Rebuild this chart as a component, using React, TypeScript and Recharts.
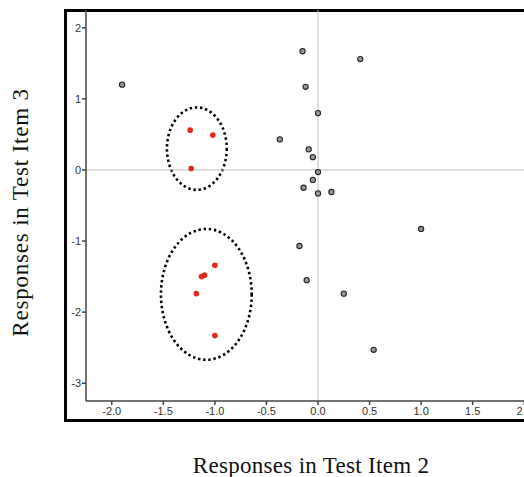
import React from 'react';
import {
  ScatterChart,
  Scatter,
  XAxis,
  YAxis,
  ReferenceLine,
  ReferenceArea,
} from 'recharts';

// responses of the other students (grey)
const otherItem2 = [-1.9, -0.15, 0.41, -0.12, 0.0, -0.37, -0.09, -0.05, 0.0, -0.05, -0.14, 0.0, 0.13, 1.0, -0.18, -0.11, 0.25, 0.54];
const otherItem3 = [1.2, 1.67, 1.56, 1.17, 0.8, 0.43, 0.29, 0.18, -0.03, -0.14, -0.25, -0.33, -0.31, -0.83, -1.07, -1.55, -1.74, -2.53];

// highlighted responses (red)
const markedItem2 = [-1.24, -1.02, -1.23, -1.0, -1.1, -1.13, -1.18, -1.0];
const markedItem3 = [0.56, 0.49, 0.02, -1.34, -1.48, -1.5, -1.74, -2.33];

// dotted groups: centre and half-axes in data units
const groupCx = [-1.175, -1.083];
const groupCy = [0.3, -1.75];
const groupRx = [0.29, 0.44];
const groupRy = [0.58, 0.92];

const xTicks = [-2, -1.5, -1, -0.5, 0, 0.5, 1, 1.5, 2];
const yTicks = [-3, -2, -1, 0, 1, 2];

const otherData = otherItem2.map((x, i) => ({ x, y: otherItem3[i] }));
const markedData = markedItem2.map((x, i) => ({ x, y: markedItem3[i] }));

const tickStyle = { fontFamily: '"Liberation Sans", Arial, sans-serif', fontSize: 11, fill: '#333' };
const titleFont = '"Liberation Serif", "Times New Roman", serif';

const GreyDot = (props: any) => (
  <circle cx={props.cx} cy={props.cy} r={2.6} fill="#9a9a9a" stroke="#222" strokeWidth={1.1} />
);

const RedDot = (props: any) => (
  <circle cx={props.cx} cy={props.cy} r={2.8} fill="#e4271b" />
);

const DottedEllipse = (props: any) => (
  <ellipse
    cx={props.x + props.width / 2}
    cy={props.y + props.height / 2}
    rx={props.width / 2}
    ry={props.height / 2}
    fill="none"
    stroke="#000"
    strokeWidth={2.6}
    strokeDasharray="2.4 2.8"
  />
);

const App = () => {
  return (
    <div
      style={{
        position: 'fixed',
        left: 0,
        top: 0,
        width: 524,
        height: 477,
        overflow: 'hidden',
        background: '#fff',
      }}
    >
      <div
        style={{
          position: 'absolute',
          left: 64,
          top: 9,
          width: 700,
          height: 413,
          border: '3px solid #000',
          boxSizing: 'border-box',
        }}
      />
      <div style={{ position: 'absolute', left: 8, top: 8 }}>
        <ScatterChart width={560} height={420} margin={{ top: 2, right: 18, bottom: 0, left: 0 }}>
          <XAxis
            type="number"
            dataKey="x"
            domain={[-2.25, 2.25]}
            ticks={xTicks}
            tickFormatter={(v: number) => v.toFixed(1)}
            tick={tickStyle}
            tickSize={4}
            tickMargin={2}
            height={27}
            stroke="#444"
            strokeWidth={1.5}
            allowDataOverflow
          />
          <YAxis
            type="number"
            dataKey="y"
            domain={[-3.25, 2.25]}
            ticks={yTicks}
            tick={tickStyle}
            tickSize={4}
            tickMargin={1}
            width={78}
            stroke="#444"
            strokeWidth={1.5}
            allowDataOverflow
          />
          <ReferenceLine x={0} stroke="#bdbdbd" strokeWidth={1} />
          <ReferenceLine y={0} stroke="#bdbdbd" strokeWidth={1} />
          {groupCx.map((cx, i) => (
            <ReferenceArea
              key={i}
              x1={cx - groupRx[i]}
              x2={cx + groupRx[i]}
              y1={groupCy[i] - groupRy[i]}
              y2={groupCy[i] + groupRy[i]}
              shape={DottedEllipse}
            />
          ))}
          <Scatter data={otherData} shape={GreyDot} isAnimationActive={false} />
          <Scatter data={markedData} shape={RedDot} isAnimationActive={false} />
        </ScatterChart>
      </div>
      <div
        style={{
          position: 'absolute',
          left: 311 - 200,
          top: 454,
          width: 400,
          textAlign: 'center',
          fontFamily: titleFont,
          fontSize: 23,
          lineHeight: '23px',
          letterSpacing: 0.3,
          whiteSpace: 'nowrap',
          color: '#111',
        }}
      >
        Responses in Test Item 2
      </div>
      <div
        style={{
          position: 'absolute',
          left: 20 - 200,
          top: 212 - 11.5,
          width: 400,
          height: 23,
          textAlign: 'center',
          fontFamily: titleFont,
          fontSize: 23,
          lineHeight: '23px',
          letterSpacing: 0.8,
          whiteSpace: 'nowrap',
          color: '#111',
          transform: 'rotate(-90deg)',
        }}
      >
        Responses in Test Item 3
      </div>
    </div>
  );
};

export default App;
